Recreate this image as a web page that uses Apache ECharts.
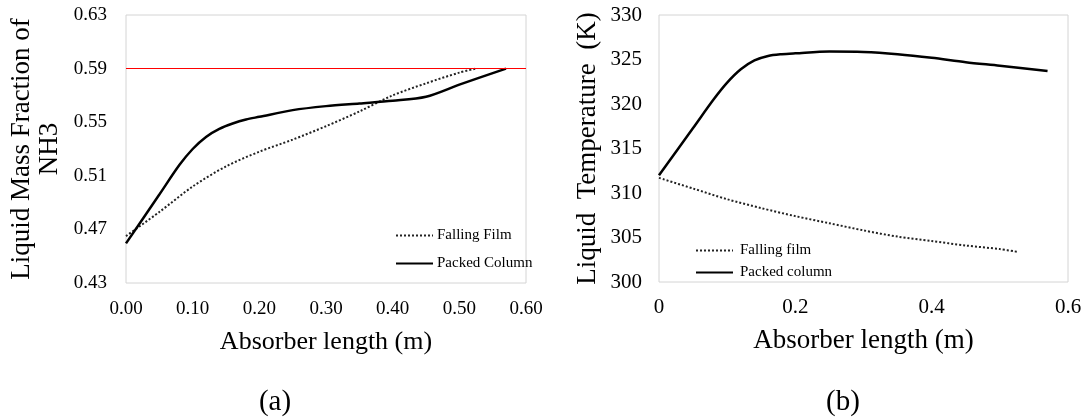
<!DOCTYPE html>
<html>
<head>
<meta charset="utf-8">
<script src="https://cdn.jsdelivr.net/npm/echarts@6/dist/echarts.min.js"></script>
<style>
html,body{margin:0;padding:0;background:#fff;}
#c{width:1086px;height:417px;}
</style>
</head>
<body>
<div id="c"></div>
<script>
// (a) Liquid mass fraction of NH3
const lenA_ff = [0, 0.05, 0.10, 0.15, 0.20, 0.25, 0.30, 0.35, 0.40, 0.45, 0.50, 0.525];
const frac_ff = [0.465, 0.483, 0.502, 0.517, 0.528, 0.537, 0.547, 0.558, 0.570, 0.579, 0.587, 0.590];
const lenA_pc = [0, 0.05, 0.08, 0.10, 0.12, 0.14, 0.16, 0.18, 0.20, 0.25, 0.30, 0.35, 0.40, 0.45, 0.50, 0.57];
const frac_pc = [0.4596, 0.496, 0.518, 0.530, 0.539, 0.545, 0.549, 0.552, 0.554, 0.559, 0.562, 0.564, 0.566, 0.569, 0.578, 0.590];
const refFraction = 0.59;
const yTicksA = [0.43, 0.47, 0.51, 0.55, 0.59, 0.63];

// (b) Liquid temperature
const lenB_ff = [0, 0.05, 0.10, 0.15, 0.20, 0.25, 0.30, 0.35, 0.40, 0.45, 0.50, 0.525];
const temp_ff = [311.7, 310.5, 309.3, 308.3, 307.4, 306.6, 305.8, 305.1, 304.6, 304.1, 303.7, 303.4];
const lenB_pc = [0, 0.05, 0.08, 0.10, 0.12, 0.14, 0.16, 0.18, 0.20, 0.25, 0.30, 0.35, 0.40, 0.45, 0.50, 0.57];
const temp_pc = [312.0, 317.3, 320.5, 322.4, 323.9, 324.9, 325.4, 325.6, 325.7, 325.9, 325.85, 325.6, 325.2, 324.7, 324.3, 323.7];

const zip = (xs, ys) => xs.map((x, i) => [x, ys[i]]);
const FONT = '"Liberation Serif", "Times New Roman", serif';

const chart = echarts.init(document.getElementById('c'), null, {renderer: 'canvas'});
chart.setOption({
  backgroundColor: '#ffffff',
  animation: false,
  textStyle: {fontFamily: FONT, color: '#000'},
  title: [
    {text: '(a)', left: 270, top: 397, textAlign: 'center', textVerticalAlign: 'middle',
     textStyle: {fontFamily: FONT, fontSize: 29, fontWeight: 'normal', color: '#000'}},
    {text: '(b)', left: 838, top: 397, textAlign: 'center', textVerticalAlign: 'middle',
     textStyle: {fontFamily: FONT, fontSize: 29, fontWeight: 'normal', color: '#000'}}
  ],
  grid: [
    {left: 126, top: 15, width: 400, height: 268, show: true, borderColor: '#d4d4d4', borderWidth: 1, backgroundColor: 'transparent'},
    {left: 659, top: 15, width: 409, height: 267, show: true, borderColor: '#d4d4d4', borderWidth: 1, backgroundColor: 'transparent'}
  ],
  legend: [
    {orient: 'vertical', left: 390, top: 223, itemWidth: 37, itemHeight: 10, itemGap: 13,
     itemStyle: {opacity: 0}, data: ['Falling Film', 'Packed Column'],
     textStyle: {fontFamily: FONT, fontSize: 15, color: '#000', padding: [0, 0, 0, -1]}},
    {orient: 'vertical', left: 690, top: 238, itemWidth: 37, itemHeight: 10, itemGap: 7,
     itemStyle: {opacity: 0}, data: ['Falling film', 'Packed column'],
     textStyle: {fontFamily: FONT, fontSize: 15, color: '#000', padding: [0, 0, 0, 2]}}
  ],
  xAxis: [
    {gridIndex: 0, type: 'value', min: 0, max: 0.6, interval: 0.1,
     name: 'Absorber length (m)', nameLocation: 'middle', nameGap: 46,
     nameTextStyle: {fontFamily: FONT, fontSize: 26, color: '#000'},
     axisLine: {show: false}, axisTick: {show: false}, splitLine: {show: false},
     axisLabel: {margin: 17, fontFamily: FONT, fontSize: 19, color: '#000',
       formatter: v => v.toFixed(2)}},
    {gridIndex: 1, type: 'value', min: 0, max: 0.6, interval: 0.2,
     name: 'Absorber length (m)', nameLocation: 'middle', nameGap: 45,
     nameTextStyle: {fontFamily: FONT, fontSize: 27, color: '#000'},
     axisLine: {show: false}, axisTick: {show: false}, splitLine: {show: false},
     axisLabel: {margin: 15, fontFamily: FONT, fontSize: 21, color: '#000',
       formatter: v => String(Math.round(v * 10) / 10)}}
  ],
  yAxis: [
    {gridIndex: 0, type: 'value', min: 0.43, max: 0.63, interval: 0.01,
     name: 'Liquid Mass Fraction of\nNH3', nameLocation: 'middle', nameGap: 62, nameRotate: 90,
     nameTextStyle: {fontFamily: FONT, fontSize: 27, color: '#000', lineHeight: 28},
     axisLine: {show: false}, axisTick: {show: false}, splitLine: {show: false},
     axisLabel: {margin: 19, fontFamily: FONT, fontSize: 19, color: '#000',
       formatter: v => yTicksA.some(t => Math.abs(t - v) < 1e-6) ? v.toFixed(2) : ''}},
    {gridIndex: 1, type: 'value', min: 300, max: 330, interval: 5,
     name: 'Liquid  Temperature  (K)', nameLocation: 'middle', nameGap: 58, nameRotate: 90,
     nameTextStyle: {fontFamily: FONT, fontSize: 27, color: '#000'},
     axisLine: {show: false}, axisTick: {show: false}, splitLine: {show: false},
     axisLabel: {margin: 17, fontFamily: FONT, fontSize: 21, color: '#000'}}
  ],
  series: [
    {name: 'Falling Film', type: 'line', xAxisIndex: 0, yAxisIndex: 0,
     data: zip(lenA_ff, frac_ff), smooth: 0.3, symbol: 'none', symbolSize: 0, showSymbol: false,
     lineStyle: {color: '#222', width: 2, type: 'dotted'}, itemStyle: {color: '#222'}},
    {name: 'Packed Column', type: 'line', xAxisIndex: 0, yAxisIndex: 0,
     data: zip(lenA_pc, frac_pc), smooth: 0.3, symbol: 'none', symbolSize: 0, showSymbol: false,
     lineStyle: {color: '#000', width: 2.5, type: 'solid'}, itemStyle: {color: '#000'}},
    {name: 'ref', type: 'line', xAxisIndex: 0, yAxisIndex: 0, data: [], silent: true,
     markLine: {silent: true, symbol: 'none', label: {show: false},
       lineStyle: {color: '#ff0000', width: 1.2, type: 'solid', opacity: 1},
       emphasis: {disabled: true},
       data: [{yAxis: refFraction, lineStyle: {color: '#ff0000'}, itemStyle: {color: '#ff0000'}}]}},
    {name: 'Falling film', type: 'line', xAxisIndex: 1, yAxisIndex: 1,
     data: zip(lenB_ff, temp_ff), smooth: 0.3, symbol: 'none', symbolSize: 0, showSymbol: false,
     lineStyle: {color: '#222', width: 2, type: 'dotted'}, itemStyle: {color: '#222'}},
    {name: 'Packed column', type: 'line', xAxisIndex: 1, yAxisIndex: 1,
     data: zip(lenB_pc, temp_pc), smooth: 0.3, symbol: 'none', symbolSize: 0, showSymbol: false,
     lineStyle: {color: '#000', width: 2.5, type: 'solid'}, itemStyle: {color: '#000'}}
  ]
});
</script>
</body>
</html>
